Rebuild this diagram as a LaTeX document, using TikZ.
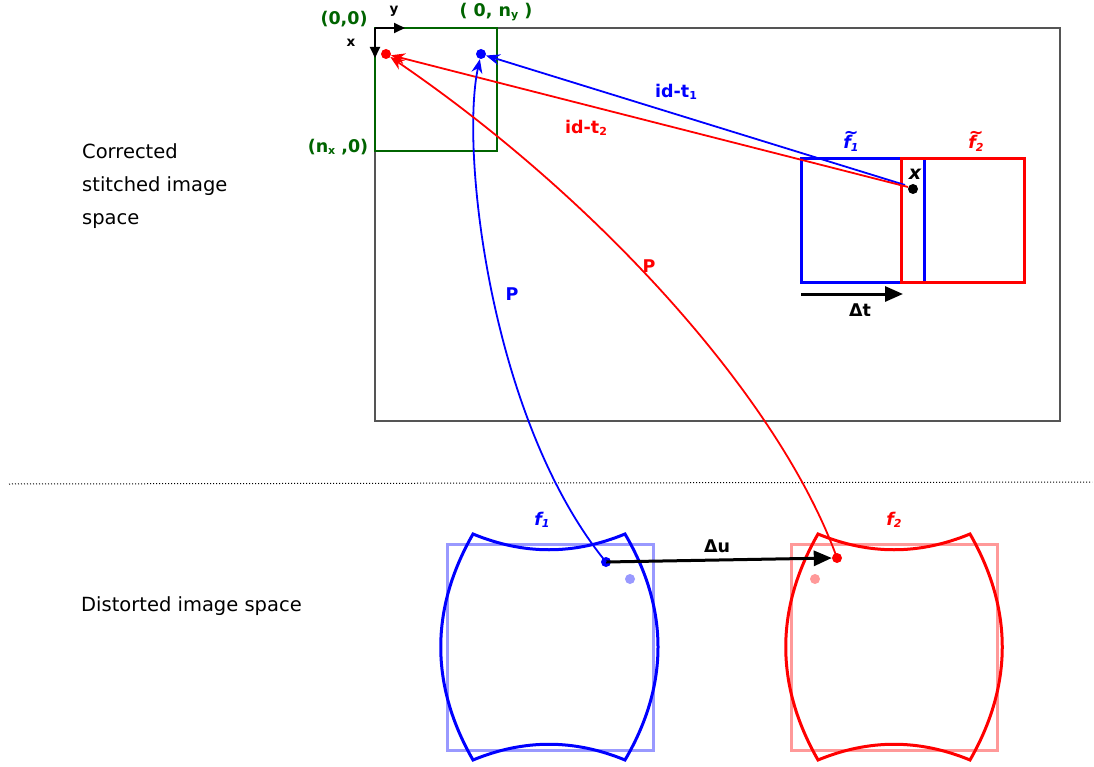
\documentclass[tikz,border=0pt]{standalone}
\usepackage{fontspec}
\setmainfont{DejaVu Sans}
\usetikzlibrary{arrows.meta}
\definecolor{dgreen}{RGB}{0,100,0}
\definecolor{fblue}{RGB}{0,0,255}
\definecolor{fred}{RGB}{255,0,0}
\definecolor{lblue}{RGB}{153,153,255}
\definecolor{lred}{RGB}{255,153,153}
\definecolor{frame}{RGB}{85,85,85}
\newcommand{\lowsub}[1]{\raisebox{-0.25ex}{\fontsize{11}{12}\selectfont #1}}
\newcommand{\tildef}{\rlap{\raisebox{0.62em}{\kern0.5pt\textasciitilde}}f}
\tikzset{
  lbl/.style={inner sep=0pt, font=\fontsize{17.5}{20}\selectfont\bfseries},
  ilbl/.style={inner sep=0pt, font=\fontsize{17.5}{20}\selectfont\bfseries\itshape},
  plain/.style={inner sep=0pt, font=\fontsize{19.5}{33}\selectfont, align=left},
  dot/.style={circle, fill, inner sep=0pt, minimum size=10pt},
  conn/.style={line width=1.8pt, -{Stealth[length=14pt,width=11pt]}},
  bigarrow/.style={line width=3pt, -{Triangle[length=18pt,width=15pt]}},
  tile/.style={line width=3pt},
  barrel/.style={line width=3pt, line join=miter},
}
\begin{document}
\begin{tikzpicture}[x=1pt,y=-1pt]
\useasboundingbox (0,0) rectangle (1094,767);
\fill[white] (0,0) rectangle (1094,767);
% main frame
\draw[frame, line width=1.8pt] (375,28) rectangle (1060,421);
\draw[dgreen, line width=1.8pt] (375,28) rectangle (497,151);
% axes
\coordinate (o) at (375,28);
\coordinate (ya) at (405,28);
\coordinate (xa) at (375,58);
\draw[line width=1.8pt, -{Triangle[length=11pt,width=10pt]}] (o) -- (ya);
\draw[line width=1.8pt, -{Triangle[length=11pt,width=10pt]}] (o) -- (xa);
\node[lbl, font=\fontsize{13.5}{14}\selectfont\bfseries] (ylab) at (394,11) {y};
\node[lbl, font=\fontsize{13.5}{14}\selectfont\bfseries] (xlab) at (351,43) {x};
\node[lbl, dgreen] (l00) at (344,19) {(0,0)};
\node[lbl, dgreen] (l0n) at (496,12) {( 0, n\lowsub{y} )};
\node[lbl, dgreen] (ln0) at (338,147) {(n\lowsub{x} ,0)};
% dots top
\node[dot, fred] (rtop) at (386,54) {};
\node[dot, fblue] (btop) at (481,54) {};
% tiles
\draw[fblue, tile] (801,159) rectangle (924,282);
\draw[fred, tile] (901,159) rectangle (1024,282);
\node[ilbl, fblue] (ft1) at (851,141) {\tildef\lowsub{1}};
\node[ilbl, fred] (ft2) at (976,141) {\tildef\lowsub{2}};
\node[dot, black] (xdot) at (913,189) {};
\node[ilbl, font=\fontsize{19}{20}\selectfont\bfseries\itshape] (xlbl) at (915,174) {x};
\coordinate (bs) at (905,185);
\coordinate (rs) at (908,187);
\draw[fblue, conn] (bs) -- (btop);
\draw[fred, conn] (rs) -- (rtop);
\node[lbl, fblue] (idt1) at (676,92) {id-t\lowsub{1}};
\node[lbl, fred] (idt2) at (586,128) {id-t\lowsub{2}};
% delta t
\coordinate (dts) at (801,294);
\coordinate (dte) at (903,294);
\draw[bigarrow] (dts) -- (dte);
\node[lbl] (dt) at (860,310) {Δt};
% left texts
\node[plain, anchor=north west] (corr) at (82,143) {Corrected\\stitched image\\space};
\node[plain, anchor=west] (dist) at (81,606) {Distorted image space};
% separator
\draw[dash pattern=on 1pt off 2pt, line width=1pt] (9,484) -- (1092,482);
% distorted tiles
\draw[lblue, line width=3pt] (447,544) rectangle (653,750);
\draw[lred, line width=3pt] (791,544) rectangle (997,750);
\draw[fblue, barrel] (473,534) .. controls (524,555) and (574,555) .. (625,534)
  .. controls (669,609) and (669,685) .. (625,760)
  .. controls (574,739) and (524,739) .. (473,760)
  .. controls (430,685) and (430,609) .. cycle;
\draw[fred, barrel] (818,534) .. controls (869,555) and (919,555) .. (970,534)
  .. controls (1013,609) and (1013,685) .. (970,760)
  .. controls (919,739) and (869,739) .. (818,760)
  .. controls (775,685) and (775,609) .. cycle;
\node[ilbl, fblue] (f1) at (542,520) {f\lowsub{1}};
\node[ilbl, fred] (f2) at (894,520) {f\lowsub{2}};
\node[dot, lblue] (lbd) at (630,579) {};
\node[dot, lred] (lrd) at (815,579) {};
\node[dot, fblue] (bd) at (606,562) {};
\node[dot, fred] (rd) at (837,558) {};
% delta u
\draw[bigarrow] (bd.center) -- (rd.west);
\node[lbl] (du) at (717,546) {Δu};
% P curves
\draw[fblue, conn] (bd.center) .. controls (490,420) and (460,150) .. (btop);
\draw[fred, conn] (rd.center) .. controls (780,400) and (600,200) .. (rtop);
\node[lbl, fblue] (p1) at (512,294) {P};
\node[lbl, fred] (p2) at (649,266) {P};
\end{tikzpicture}
\end{document}
